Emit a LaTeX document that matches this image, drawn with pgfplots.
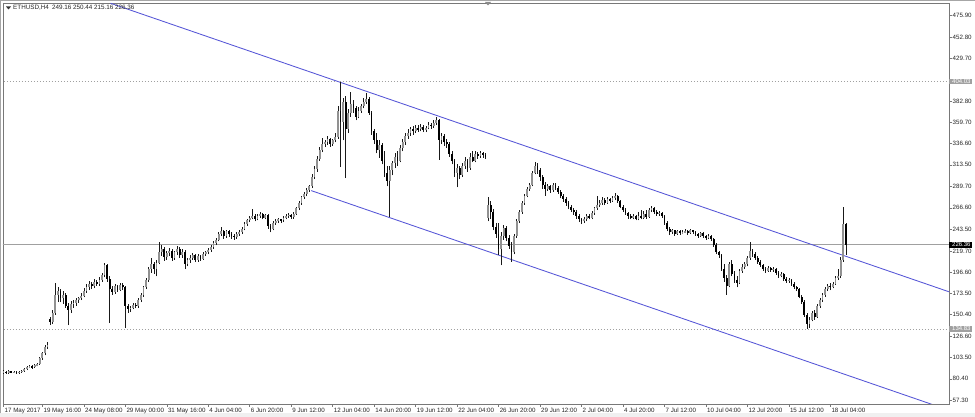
\documentclass[border=0pt]{standalone}
\usepackage{pgfplots}
\pgfplotsset{compat=1.18}
\usepackage{pgfplotstable}
\usepackage{fontspec}
\setmainfont{Liberation Sans}
\definecolor{chan}{RGB}{85,85,215}
\definecolor{bull}{RGB}{145,145,145}
\definecolor{frm}{RGB}{120,120,120}
\definecolor{lvl}{RGB}{160,160,160}

\pgfplotstableread{
o h l c
88 90 86 88
88 89 86 87
87 89.5 86 88.5
88.5 89 86.5 87.5
87.5 89 86.5 88
88 88.5 85.5 87
87 89 86 88
88 90 87 89
89 92 88 91
91 94 90 93
93 95 92 94
94 95 91.5 93
93 96.5 92 95
95 98 94 97
97 104 96 103
103 110 101 108
108 117 106 115
115 120 113 117
146 148 139 142
142 155 140 152
152 185 150 172
172 180 164 176
176 178 164 168
168 176 162 172
172 174 158 160
160 163 139 155
155 165 152 162
162 166 158 163
163 168 160 166
166 170 163 168
168 174 166 171
171 179 169 176
176 184 174 180
180 187 177 184
184 186 178 181
181 189 179 186
186 188 182 184
184 191 182 188
188 196 186 193
193 207 191 204
204 206 186 189
189 192 141 178
178 182 172 175
175 184 173 181
181 183 175 177
177 185 176 183
183 185 177 180
180 182 136 160
160 162 152 156
156 160 153 158
158 163 156 161
161 163 157 160
160 168 158 166
166 174 164 172
172 182 170 180
180 190 178 188
188 202 186 200
200 212 196 205
205 208 195 200
200 210 192 207
207 229 205 219
219 226 214 222
222 224 209 213
213 220 210 217
217 223 214 220
220 222 209 212
212 220 210 218
218 225 215 222
222 224 212 215
215 222 212 219
219 221 200 205
205 212 203 210
210 215 207 212
212 217 210 215
215 216 208 210
210 216 208 214
214 215 209 211
211 218 210 216
216 220 214 218
218 223 216 221
221 226 219 224
224 230 222 228
228 234 226 232
232 240 230 238
238 246 236 241
241 243 233 236
236 243 234 241
241 242 235 238
238 240 233 236
236 238 232 235
235 240 233 238
238 242 236 240
240 246 238 244
244 251 242 249
249 255 247 253
253 258 251 256
256 265 254 258
258 260 252 255
255 260 253 258
258 262 256 260
260 261 254 256
256 260 254 259
259 260 244 247
247 249 240 244
244 252 242 250
250 254 248 252
252 256 250 254
254 255 250 253
253 258 251 256
256 260 254 258
258 261 256 259
259 260 255 257
257 262 255 260
260 268 259 266
266 274 264 272
272 280 270 278
278 284 276 282
282 288 279 286
286 292 284 290
290 303 288 300
300 312 298 309
309 323 306 320
320 333 318 330
330 343 327 336
336 341 333 338
338 345 335 342
342 343 333 336
336 342 334 340
340 348 338 344
344 378 342 372
372 404 311 360
360 386 340 382
382 388 299 352
352 374 348 370
370 393 366 380
380 384 370 375
375 378 362 366
366 376 364 372
372 380 370 377
377 386 375 382
382 392 380 385
385 387 368 370
370 372 346 350
350 352 336 340
340 348 326 330
330 340 321 335
335 337 314 318
318 328 300 305
305 312 290 296
296 312 257 308
308 318 302 315
315 326 310 322
322 328 312 318
318 335 316 332
332 342 328 338
338 348 335 345
345 352 342 348
348 355 345 352
352 356 346 350
350 357 348 354
354 357 349 352
352 358 350 355
355 357 349 351
351 356 349 354
354 360 352 357
357 359 353 356
356 362 354 359
359 366 357 362
362 363 319 340
340 348 336 345
345 347 334 338
338 342 332 336
336 338 322 325
325 328 314 318
318 320 300 305
305 314 289 310
310 312 298 302
302 315 300 312
312 322 309 318
318 320 306 310
310 326 308 322
322 328 316 318
318 328 316 325
325 327 320 323
323 328 321 326
326 327 321 324
324 326 320 322
256 278 252 270
270 274 255 262
262 265 242 246
246 250 234 238
238 250 215 222
222 240 204 236
236 248 232 245
245 247 230 234
234 237 222 225
225 229 208 218
218 238 216 236
236 254 234 252
252 264 250 262
262 274 260 272
272 282 270 280
280 289 278 287
287 294 285 292
292 307 290 305
305 316 303 312
312 315 304 308
308 310 296 300
300 302 287 292
292 295 280 287
287 293 285 290
290 291 283 286
286 294 284 292
292 294 286 288
288 290 282 284
284 286 277 280
280 282 273 276
276 278 269 272
272 274 265 268
268 270 262 264
264 266 259 262
262 264 255 258
258 260 251 254
254 256 249 252
252 257 250 254
254 260 252 258
258 260 254 256
256 263 254 261
261 268 259 266
266 279 264 270
270 275 268 272
272 278 270 275
275 277 270 272
272 278 271 276
276 277 272 274
274 279 273 277
277 283 275 280
280 281 272 274
274 275 266 268
268 270 262 264
264 266 259 261
261 262 255 258
258 260 254 256
256 260 254 258
258 259 253 255
255 262 253 258
258 264 254 256
256 263 254 260
260 264 255 257
257 266 256 264
264 269 262 266
266 267 260 262
262 264 258 260
260 263 258 261
261 262 256 258
258 259 248 250
250 252 241 244
244 246 237 240
240 244 238 242
242 243 236 238
238 243 237 241
241 242 237 239
239 242 238 240
240 244 239 241
241 242 237 239
239 244 238 242
242 243 238 240
240 241 236 238
238 239 234 236
236 240 235 239
239 240 234 236
236 237 232 234
234 238 233 236
236 237 231 233
233 234 224 226
226 228 216 218
218 220 212 215
215 216 198 200
200 206 186 190
190 194 172 182
182 208 180 205
205 210 192 195
195 198 185 188
188 192 180 185
185 200 184 198
198 205 196 202
202 208 200 205
205 214 203 212
212 229 210 220
220 222 213 216
216 218 210 212
212 214 206 208
208 210 202 204
204 205 198 200
200 202 196 198
198 203 197 201
201 202 197 199
199 202 197 200
200 201 194 196
196 198 190 192
192 197 191 195
195 196 187 189
189 191 185 187
187 190 185 188
188 189 182 184
184 186 178 180
180 182 176 178
178 179 168 170
170 172 162 164
164 166 148 150
150 152 135 140
140 148 136 145
145 154 143 152
152 155 145 148
148 162 147 160
160 168 158 166
166 174 164 172
172 180 170 178
178 184 176 182
182 185 177 180
180 186 179 184
184 192 183 190
190 200 188 192
192 213 190 210
210 267 208 249
249.16 250.44 215.16 226.36
}\candles

\begin{document}
\begin{tikzpicture}
\fill[white] (-3pt,-13pt) rectangle (972pt,404pt);
\fill[black!6] (-3pt,-13pt) rectangle (972pt,-9.5pt);
\draw[black!35, line width=1.2pt] (-2.6pt,-9.5pt) -- (-2.6pt,403.6pt) -- (971.6pt,403.6pt);
\begin{axis}[
  scale only axis, width=946pt, height=401pt,
  xmin=-0.2, xmax=364.8, ymin=53, ymax=489.7,
  axis line style={frm, line width=0.8pt},
  clip mode=individual,
  tick align=outside, major tick length=3pt,
  tick style={frm, line width=0.5pt},
  xtick pos=bottom, ytick pos=right, yticklabel pos=right,
  xtick={0,15,31,47,63,79,95,111,127,143,159,175,191,207,223,239,255,271,287,303,319},
  xticklabels={17 May 2017,19 May 16:00,24 May 08:00,29 May 00:00,31 May 16:00,4 Jun 04:00,6 Jun 20:00,9 Jun 12:00,12 Jun 04:00,14 Jun 20:00,19 Jun 12:00,22 Jun 04:00,26 Jun 20:00,29 Jun 12:00,2 Jul 04:00,4 Jul 20:00,7 Jul 12:00,10 Jul 04:00,12 Jul 20:00,15 Jul 12:00,18 Jul 04:00},
  ytick={475.9,452.8,429.7,382.8,359.7,336.6,313.5,289.7,266.6,243.5,219.7,196.6,173.5,150.4,126.6,103.5,80.4,57.3},
  yticklabels={475.90,452.80,429.70,382.80,359.70,336.60,313.50,289.70,266.60,243.50,219.70,196.60,173.50,150.40,126.60,103.50,80.40,57.30},
  ticklabel style={font=\fontsize{6.2}{7}\selectfont, text=black!85},
  xticklabel style={anchor=north west, inner sep=0pt, xshift=1pt, yshift=-1pt},
  yticklabel style={anchor=west, inner sep=0pt, xshift=0.5pt},
]
% levels
\addplot[lvl, dash pattern=on 1.5pt off 1.5pt, line width=0.5pt, forget plot] coordinates {(-1,404.03) (366,404.03)};
\addplot[lvl, dash pattern=on 1.5pt off 1.5pt, line width=0.5pt, forget plot] coordinates {(-1,134.83) (366,134.83)};
\addplot[lvl, line width=0.7pt, forget plot] coordinates {(-1,226.36) (366,226.36)};
% channel
\addplot[chan, line width=0.85pt, forget plot] coordinates {(41.3,489.4) (364.9,175.1)};
\addplot[chan, line width=0.85pt, forget plot] coordinates {(118.7,285.4) (364.9,46.1)};
% wicks
\addplot[draw=none, mark=none, forget plot,
  error bars/.cd, y dir=plus, y explicit, error mark=none,
  error bar style={draw=black!90, line width=0.65pt}]
  table[x expr=\coordindex, y=l, y error expr=\thisrow{h}-\thisrow{l}] {\candles};
% bull bodies
\addplot[draw=none, mark=none, forget plot, restrict y to domain=0:1000,
  error bars/.cd, y dir=both, y explicit, error mark=none,
  error bar style={draw=bull, line width=1.8pt}]
  table[x expr=\coordindex,
        y expr={\thisrow{c}>=\thisrow{o} ? 0.5*(\thisrow{o}+\thisrow{c}) : -1000},
        y error expr={max(abs(\thisrow{c}-\thisrow{o})/2,0.5)}] {\candles};
% bear bodies
\addplot[draw=none, mark=none, forget plot, restrict y to domain=0:1000,
  error bars/.cd, y dir=both, y explicit, error mark=none,
  error bar style={draw=black, line width=1.8pt}]
  table[x expr=\coordindex,
        y expr={\thisrow{c}<\thisrow{o} ? 0.5*(\thisrow{o}+\thisrow{c}) : -1000},
        y error expr={max(abs(\thisrow{c}-\thisrow{o})/2,0.5)}] {\candles};
% price boxes
\node[anchor=west, fill=lvl, text=white, inner xsep=1pt, inner ysep=0.6pt, font=\fontsize{6}{6}\selectfont] at (axis cs:364.8,404.03) {\hspace*{2pt}404.03};
\node[anchor=west, fill=black, text=white, inner xsep=1pt, inner ysep=0.6pt, font=\fontsize{6}{6}\selectfont] at (axis cs:364.8,226.36) {\hspace*{2pt}226.36};
\node[anchor=west, fill=lvl, text=white, inner xsep=1pt, inner ysep=0.6pt, font=\fontsize{6}{6}\selectfont] at (axis cs:364.8,134.83) {\hspace*{2pt}134.83};
\end{axis}
\fill[black!80] (3pt,397.5pt) -- (8pt,397.5pt) -- (5.5pt,394.5pt) -- cycle;
\fill[black!45] (482pt,402pt) -- (488pt,402pt) -- (485pt,398.5pt) -- cycle;
\node[anchor=west, inner sep=0pt, font=\fontsize{6.3}{7}\selectfont, text=black!85] at (10pt,396pt) {ETHUSD,H4\enspace 249.16 250.44 215.16 226.36};
\pgfresetboundingbox
\path (-3pt,-13pt) rectangle (972pt,404pt);
\end{tikzpicture}
\end{document}
